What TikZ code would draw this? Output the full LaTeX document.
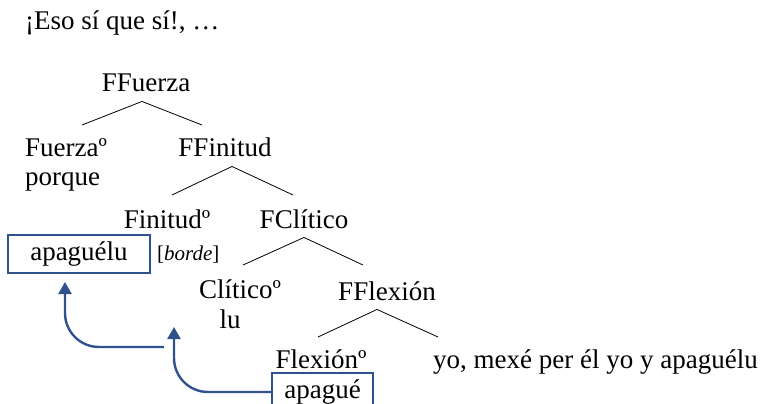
\documentclass[tikz,border=0pt]{standalone}
\usepackage{fontspec}
\setmainfont{Liberation Serif}
\usetikzlibrary{arrows.meta}
\definecolor{arrowblue}{RGB}{47,82,143}

\tikzset{
  cat/.style={anchor=base, inner ysep=9pt, font=\fontsize{27}{32}\selectfont},
  word/.style={anchor=base west, inner sep=0pt, font=\fontsize{27}{32}\selectfont},
  moved/.style={draw=arrowblue, line width=2pt, inner sep=0pt, font=\fontsize{27}{32}\selectfont},
  branch/.style={black, line width=0.8pt},
  movearrow/.style={arrowblue, line width=2.4pt, rounded corners=34pt, -{Triangle[width=13pt,length=12pt]}}
}

\begin{document}
\begin{tikzpicture}[x=1pt, y=1pt]
    \useasboundingbox (0,0) rectangle (772,-404);

    \node[word] (eso) at (25,-30) {¡Eso sí que sí!, …};

    % labels of the tree
    \node[cat] (ffuerza) at (146,-92) {FFuerza};
    \node[word] (fuerza) at (25,-157) {Fuerzaº};
    \node[word] (porque) at (25,-185) {porque};
    \node[cat] (ffinitud) at (225,-157) {FFinitud};
    \node[cat] (finitud) at (167,-228) {Finitudº};
    \node[cat] (fclitico) at (304,-228) {FClítico};
    \node[cat] (clitico) at (240,-298) {Clíticoº};
    \node[cat] (lu) at (230,-328) {lu};
    \node[cat] (fflexion) at (387,-300) {FFlexión};
    \node[cat] (flexion) at (321,-368) {Flexiónº};
    \node[word] (yo) at (433,-368) {yo, mexé per él yo y apaguélu};

    % boxed verb forms
    \node[moved, minimum width=142pt, minimum height=38pt] (apaguelu) at (79,-254) {apaguélu};
    \node[word, font=\fontsize{21}{24}\selectfont] (borde) at (157,-260) {[\textit{borde}]};
    \node[moved, minimum width=101pt, minimum height=38pt] (apague) at (322.5,-392) {apagué};

    % branches
    \coordinate (fuerza-up) at (82,-125);
    \coordinate (ffinitud-up) at (202,-125);
    \coordinate (finitud-up) at (172,-195);
    \coordinate (fclitico-up) at (293,-195);
    \coordinate (clitico-up) at (243,-265);
    \coordinate (fflexion-up) at (363,-265);
    \coordinate (flexion-up) at (318,-337);
    \coordinate (yo-up) at (438,-337);

    \draw[branch] ([xshift=-4pt]ffuerza.south) -- (fuerza-up);
    \draw[branch] ([xshift=-4pt]ffuerza.south) -- (ffinitud-up);
    \draw[branch] ([xshift=7pt]ffinitud.south) -- (finitud-up);
    \draw[branch] ([xshift=7pt]ffinitud.south) -- (fclitico-up);
    \draw[branch] (fclitico.south) -- (clitico-up);
    \draw[branch] (fclitico.south) -- (fflexion-up);
    \draw[branch] ([xshift=-10pt]fflexion.south) -- (flexion-up);
    \draw[branch] ([xshift=-10pt]fflexion.south) -- (yo-up);

    % head movement
    \coordinate (finitud-trace) at (174,-327);
    \coordinate (trace-tail) at (164,-347);
    \coordinate (apaguelu-low) at (65,-282);
    \draw[movearrow] (apague.west) -| (finitud-trace);
    \draw[movearrow] (trace-tail) -| (apaguelu-low);
\end{tikzpicture}
\end{document}
